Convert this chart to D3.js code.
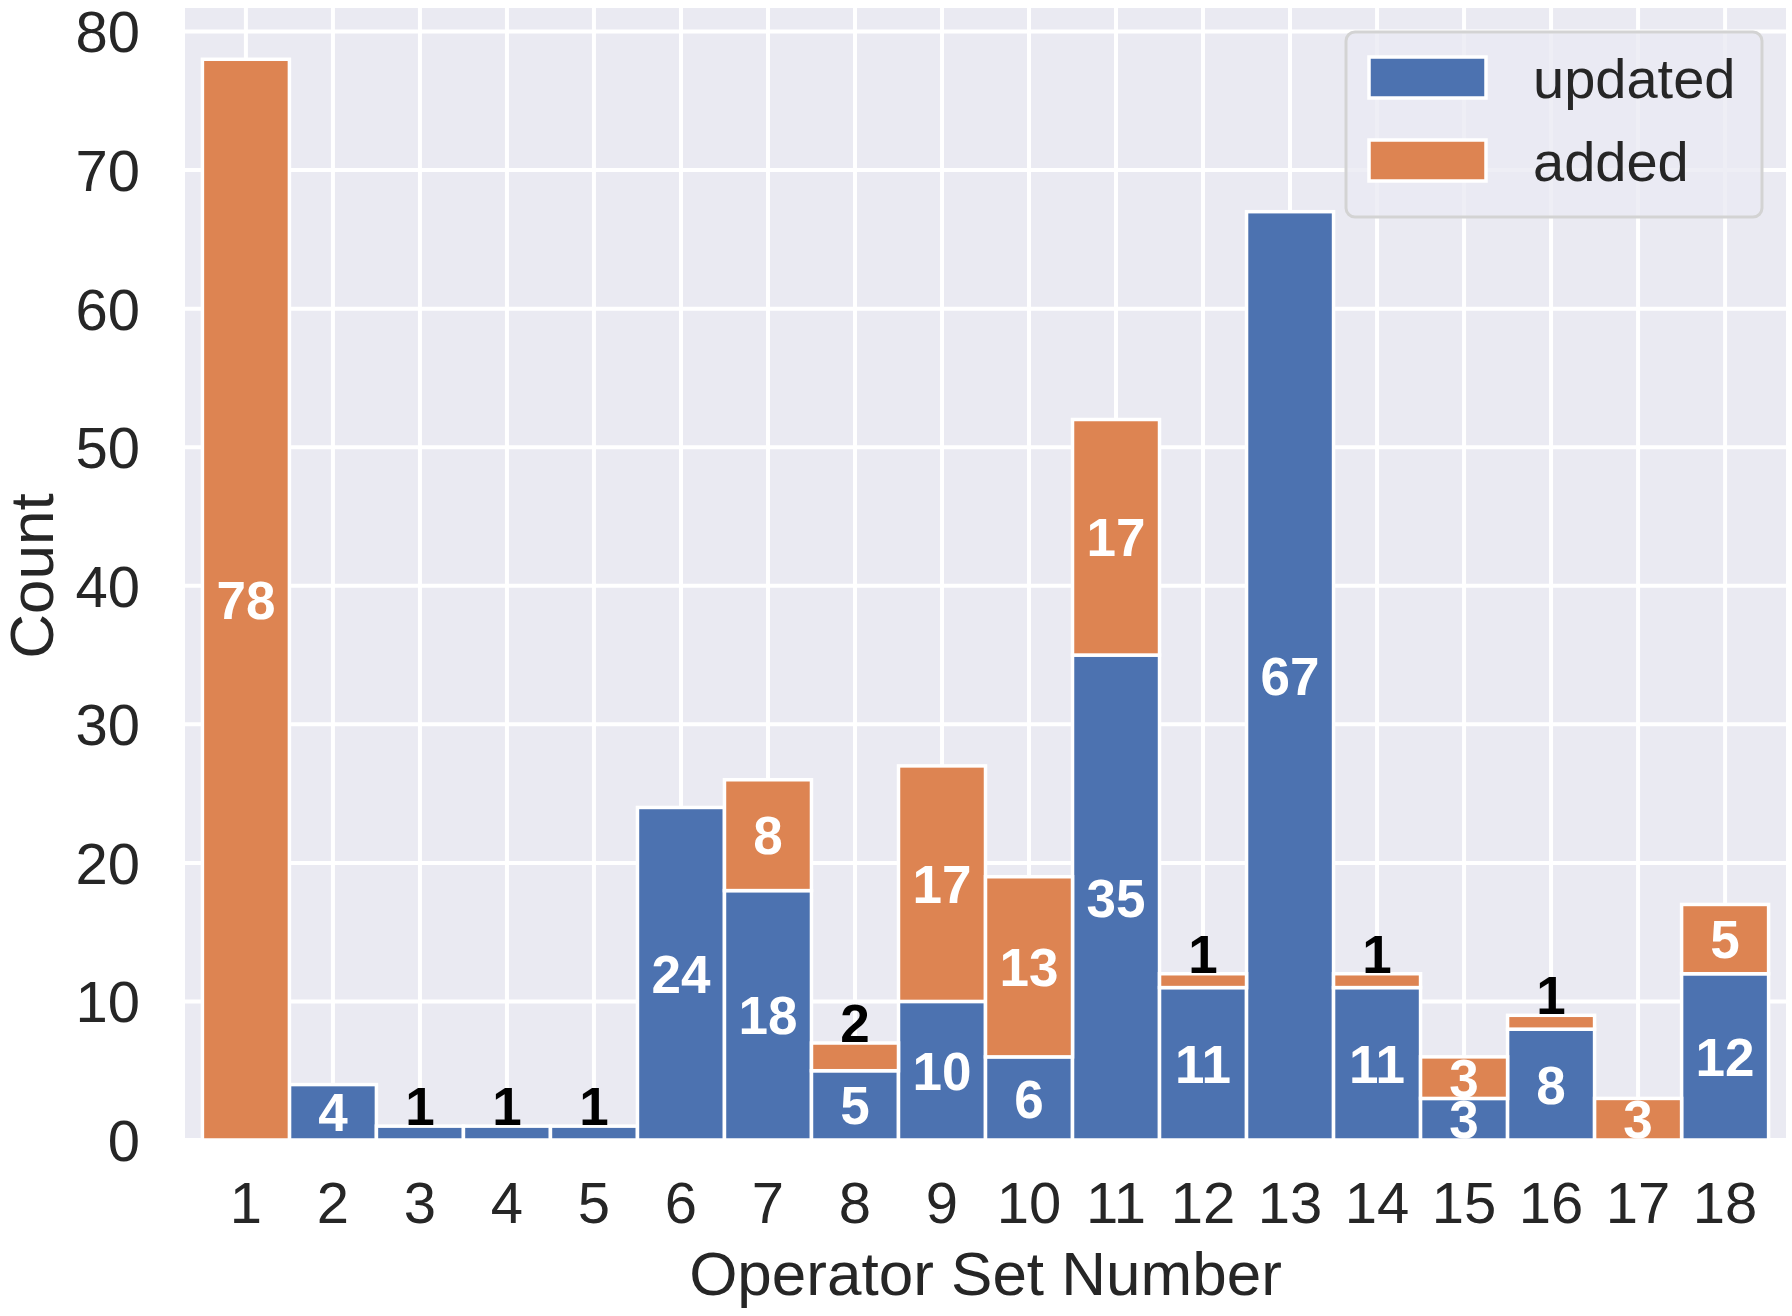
<!DOCTYPE html>
<html>
<head>
<meta charset="utf-8">
<script src="https://cdn.jsdelivr.net/npm/d3@7"></script>
<style>
  body { margin: 0; background: #fff; }
  text { font-family: "Liberation Sans", Arial, sans-serif; }
</style>
</head>
<body>
<div id="chart"></div>
<script>
var width = 1792;
var height = 1316;

// data
var operatorSets = [1, 2, 3, 4, 5, 6, 7, 8, 9, 10, 11, 12, 13, 14, 15, 16, 17, 18];
var updated = [0, 4, 1, 1, 1, 24, 18, 5, 10, 6, 35, 11, 67, 11, 3, 8, 0, 12];
var added = [78, 0, 0, 0, 0, 0, 8, 2, 17, 13, 17, 1, 0, 1, 3, 1, 3, 5];
var yTicks = [0, 10, 20, 30, 40, 50, 60, 70, 80];
var seriesNames = ["updated", "added"];
var colors = ["#4C72B0", "#DD8452"];

var margin = { left: 185, right: 6, top: 8, bottom: 176 };
var plotW = width - margin.left - margin.right;
var plotH = height - margin.top - margin.bottom;

const svg = d3.select("#chart")
    .append("svg")
    .attr("width", width)
    .attr("height", height);

const g = svg.append("g")
    .attr("transform", "translate(" + margin.left + "," + margin.top + ")");

var x = d3.scaleLinear().domain([0.3, 18.7]).range([0, plotW]);
var y = d3.scaleLinear().domain([0, 81.7]).range([plotH, 0]);

// background + grid
g.append("rect")
    .attr("width", plotW)
    .attr("height", plotH)
    .attr("fill", "#EAEAF2");

g.selectAll(".hgrid")
    .data(yTicks)
    .enter().append("line")
    .attr("x1", 0).attr("x2", plotW)
    .attr("y1", d => y(d)).attr("y2", d => y(d))
    .attr("stroke", "#fff")
    .attr("stroke-width", 4);

g.selectAll(".vgrid")
    .data(operatorSets)
    .enter().append("line")
    .attr("y1", 0).attr("y2", plotH)
    .attr("x1", d => x(d)).attr("x2", d => x(d))
    .attr("stroke", "#fff")
    .attr("stroke-width", 4);

// stacked bars
var rows = operatorSets.map(function (s, i) { return { set: s, updated: updated[i], added: added[i] }; });
var stacked = d3.stack().keys(seriesNames)(rows);

stacked.forEach(function (layer, k) {
    g.selectAll(".bar" + k)
        .data(layer.filter(d => d[1] - d[0] > 0))
        .enter().append("rect")
        .attr("x", d => x(d.data.set - 0.5))
        .attr("width", x(1.5) - x(0.5))
        .attr("y", d => y(d[1]))
        .attr("height", d => y(d[0]) - y(d[1]))
        .attr("fill", colors[k])
        .attr("stroke", "#fff")
        .attr("stroke-width", 3.5);
});

// bar labels: small values go black above the stack, others white in the middle
stacked.forEach(function (layer) {
    layer.forEach(function (d) {
        var v = d[1] - d[0];
        if (v <= 0) return;
        var t = g.append("text")
            .attr("x", x(d.data.set))
            .attr("text-anchor", "middle")
            .attr("font-size", 53)
            .attr("font-weight", "bold")
            .text(v);
        if (v < 3) {
            var top = d.data.updated + d.data.added;
            t.attr("y", y(top) - 1).attr("fill", "#000");
        } else {
            t.attr("y", y((d[0] + d[1]) / 2)).attr("dy", "0.36em").attr("fill", "#fff");
        }
    });
});

// axes text
g.selectAll(".xtick")
    .data(operatorSets)
    .enter().append("text")
    .attr("x", d => x(d))
    .attr("y", 1223 - margin.top)
    .attr("text-anchor", "middle")
    .attr("font-size", 58)
    .attr("fill", "#262626")
    .text(d => d);

g.selectAll(".ytick")
    .data(yTicks)
    .enter().append("text")
    .attr("x", 140 - margin.left)
    .attr("y", d => y(d))
    .attr("dy", "0.36em")
    .attr("text-anchor", "end")
    .attr("font-size", 58)
    .attr("fill", "#262626")
    .text(d => d);

svg.append("text")
    .attr("x", margin.left + plotW / 2)
    .attr("y", 1295)
    .attr("text-anchor", "middle")
    .attr("font-size", 62)
    .attr("fill", "#262626")
    .text("Operator Set Number");

svg.append("text")
    .attr("transform", "translate(53,576) rotate(-90)")
    .attr("text-anchor", "middle")
    .attr("font-size", 62)
    .attr("fill", "#262626")
    .text("Count");

// legend
var legend = svg.append("g").attr("transform", "translate(1346,32)");
legend.append("rect")
    .attr("width", 416)
    .attr("height", 185)
    .attr("rx", 9)
    .attr("fill", "#EAEAF2")
    .attr("fill-opacity", 0.8)
    .attr("stroke", "#d3d3d3")
    .attr("stroke-width", 3);

seriesNames.forEach(function (name, i) {
    legend.append("rect")
        .attr("x", 23)
        .attr("y", 25 + i * 83)
        .attr("width", 117)
        .attr("height", 41)
        .attr("fill", colors[i])
        .attr("stroke", "#fff")
        .attr("stroke-width", 3.5);
    legend.append("text")
        .attr("x", 187)
        .attr("y", 66 + i * 83)
        .attr("font-size", 56)
        .attr("fill", "#262626")
        .text(name);
});
</script>
</body>
</html>
